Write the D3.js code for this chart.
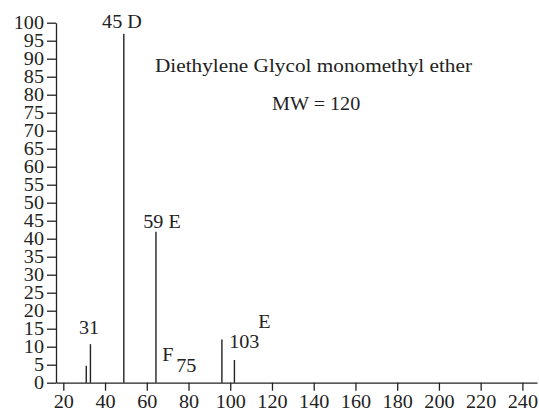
<!DOCTYPE html>
<html>
<head>
<meta charset="utf-8">
<script src="https://cdn.jsdelivr.net/npm/d3@7"></script>
<style>
  body { margin: 0; background: #fff; }
  text { font-family: "Liberation Serif", "Times New Roman", serif; fill: #222; }
</style>
</head>
<body>
<script>
// spectrum peaks (m/z position as drawn, relative intensity)
const peakMz = [31, 33, 49, 64.4, 96, 102];
const peakIntensity = [4.7, 10.7, 96.9, 41.9, 12.0, 6.3];

// peak labels, anchored in data coordinates (left edge, baseline)
const labelText = ["45 D", "59 E", "31", "F", "75", "103", "E"];
const labelMz = [38.6, 58.3, 27.5, 67.4, 74.1, 99.5, 113.4];
const labelInt = [98.5, 43.0, 13.5, 6.0, 3.0, 9.6, 15.2];

const xTicks = d3.range(20, 241, 20);
const yTicks = d3.range(0, 101, 5);

const title = "Diethylene Glycol monomethyl ether";
const subtitle = "MW = 120";

const width = 539;
const height = 411;
const stretch = 1.12;

const x = d3.scaleLinear()
    .domain([16.5, 247])
    .range([56, 537]);

const y = d3.scaleLinear()
    .domain([0, 100])
    .range([382.7, 22.7]);

const svg = d3.create("svg")
    .attr("width", width)
    .attr("height", height)
    .attr("viewBox", `0 0 ${width} ${height}`);

// axes
const xAxis = svg.append("g")
    .attr("transform", `translate(0,${y(0)})`)
    .call(d3.axisBottom(x).tickValues(xTicks).tickSize(8).tickSizeOuter(0).tickPadding(5));

const yAxis = svg.append("g")
    .attr("transform", `translate(${x.range()[0]},0)`)
    .call(d3.axisLeft(y).tickValues(yTicks).tickSize(9).tickSizeOuter(0).tickPadding(3));

[xAxis, yAxis].forEach(g => {
    g.selectAll("path, line").attr("stroke", "#222").attr("stroke-width", 1.3);
    g.selectAll("text")
        .attr("font-family", "Liberation Serif, serif")
        .attr("font-size", 18)
        .attr("fill", "#222");
});

// squeeze wide tick labels a bit like the original
xAxis.selectAll(".tick text")
    .attr("transform", `scale(${stretch},1)`)
    .attr("x", 0);
yAxis.selectAll(".tick text")
    .attr("transform", function () {
        const xx = +d3.select(this).attr("x");
        return `translate(${xx},0) scale(${stretch},1)`;
    })
    .attr("x", 0);

// peaks
svg.selectAll(".peak")
    .data(peakMz.map((m, i) => ({ mz: m, v: peakIntensity[i] })))
    .enter()
    .append("line")
    .attr("class", "peak")
    .attr("x1", d => x(d.mz))
    .attr("x2", d => x(d.mz))
    .attr("y1", y(0))
    .attr("y2", d => y(d.v))
    .attr("stroke", "#222")
    .attr("stroke-width", 1.4);

// peak labels
svg.selectAll(".plabel")
    .data(labelText.map((t, i) => ({ t, mz: labelMz[i], v: labelInt[i] })))
    .enter()
    .append("text")
    .attr("class", "plabel")
    .attr("transform", d => `translate(${x(d.mz)},${y(d.v)}) scale(${stretch},1)`)
    .attr("font-size", 18)
    .text(d => d.t);

// title texts
svg.append("text")
    .attr("x", 155)
    .attr("y", 72)
    .attr("font-size", 18)
    .attr("textLength", 317)
    .attr("lengthAdjust", "spacingAndGlyphs")
    .text(title);

svg.append("text")
    .attr("transform", `translate(272,110) scale(${stretch},1)`)
    .attr("font-size", 18)
    .text(subtitle);

document.body.appendChild(svg.node());
</script>
</body>
</html>
